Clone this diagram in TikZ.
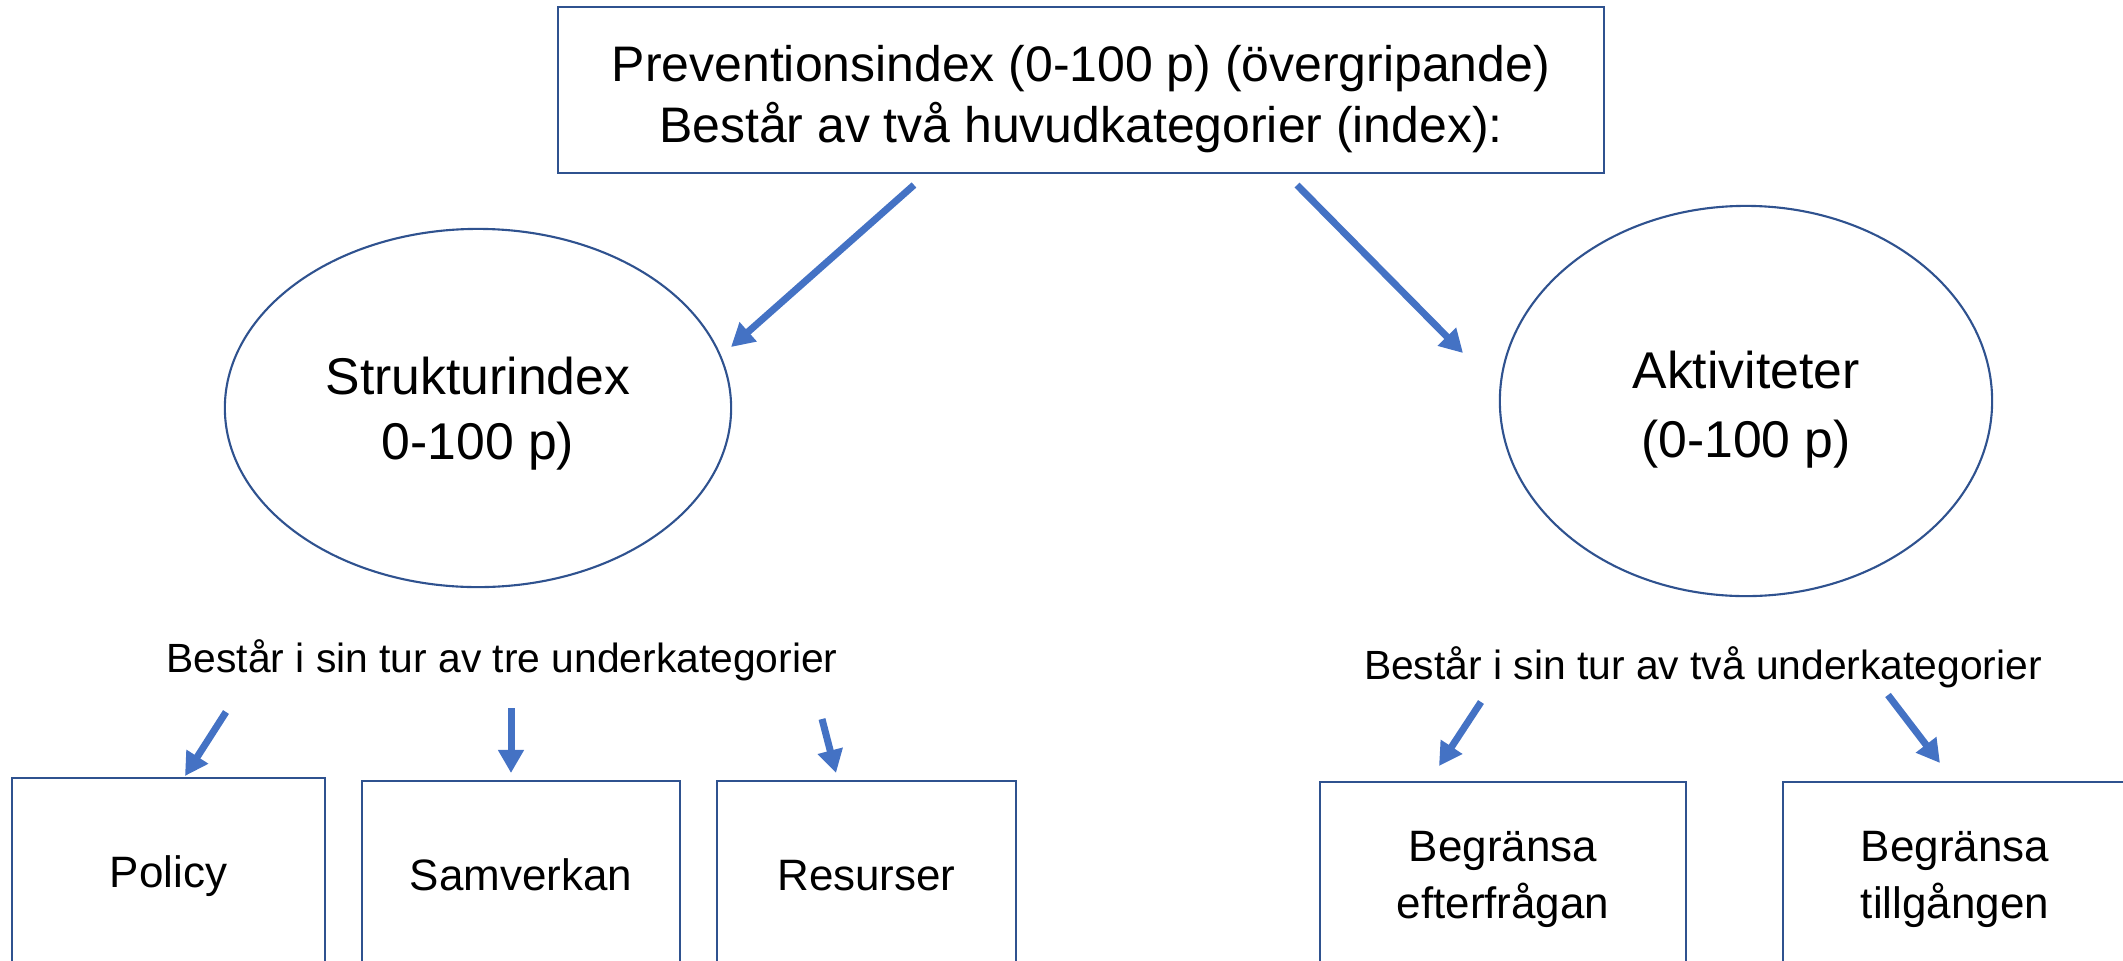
\documentclass[tikz,border=0pt]{standalone}
\usepackage{fontspec}
\setmainfont{Liberation Sans}
\usetikzlibrary{arrows.meta,shapes.geometric}
\definecolor{arrowblue}{HTML}{4472C4}
\definecolor{lineblue}{HTML}{2F528F}
\begin{document}
\begin{tikzpicture}[x=0.01cm,y=-0.01cm,
  box/.style={draw=lineblue, line width=0.6pt, align=center, inner sep=0pt},
  subbox/.style={box, minimum height=1.94cm, text height=0.72em, text depth=0pt},
  oval/.style={ellipse, draw=lineblue, line width=0.6pt, align=center, inner sep=0pt},
  pil/.style={arrowblue, line width=0.07cm, -{Triangle[length=0.23cm,width=0.245cm]}}]
\useasboundingbox (0,0) rectangle (2123,960);
\clip (0,0) rectangle (2123,960);
% top index
\node[box, minimum width=10.46cm, minimum height=1.66cm, font=\fontsize{14.2}{17.4}\selectfont] (index) at (1081,90)
  {\rule{0pt}{0.54cm}Preventionsindex (0-100 p) (övergripande)\\Består av två huvudkategorier (index):};
% the two main categories
\node[oval, minimum width=5.06cm, minimum height=3.58cm, font=\fontsize{14.7}{18.5}\selectfont] (struktur) at (478,408) {\rule{0pt}{0.49cm}Strukturindex\\0-100 p)};
\node[oval, minimum width=4.92cm, minimum height=3.90cm, font=\fontsize{14.7}{19.6}\selectfont] (aktiv) at (1746,401) {\rule{0pt}{0.55cm}Aktiviteter\\(0-100 p)};
\coordinate (A1) at (914,185);
\coordinate (B1) at (731,347);
\draw[pil] (A1) -- (B1);
\coordinate (A2) at (1297,185);
\coordinate (B2) at (1463,353);
\draw[pil] (A2) -- (B2);
% sub categories
\node[font=\fontsize{11.6}{14}\selectfont] (tre) at (502,660) {Består i sin tur av tre underkategorier};
\node[font=\fontsize{11.6}{14}\selectfont] (tva) at (1703,667) {Består i sin tur av två underkategorier};
\node[subbox, minimum width=3.13cm, font=\fontsize{12.5}{16.2}\selectfont] (policy) at (168.5,875) {Policy};
\node[subbox, minimum width=3.18cm, font=\fontsize{12.5}{16.2}\selectfont] (samverkan) at (521,878) {Samverkan};
\node[subbox, minimum width=2.99cm, font=\fontsize{12.5}{16.2}\selectfont] (resurser) at (866.5,878) {Resurser};
\node[box, minimum width=3.66cm, minimum height=1.94cm, font=\fontsize{12.5}{16.2}\selectfont] (efter) at (1503,879) {Begränsa\\efterfrågan};
\node[box, minimum width=3.44cm, minimum height=1.94cm, font=\fontsize{12.5}{16.2}\selectfont] (tillg) at (1955,879) {Begränsa\\tillgången};
\coordinate (a1) at (226,712);
\coordinate (a2) at (185,776);
\draw[pil] (a1) -- (a2);
\coordinate (b1) at (511,708);
\coordinate (b2) at (511,773);
\draw[pil] (b1) -- (b2);
\coordinate (c1) at (822,719);
\coordinate (c2) at (836,773);
\draw[pil] (c1) -- (c2);
\coordinate (d1) at (1481,702);
\coordinate (d2) at (1439,766);
\draw[pil] (d1) -- (d2);
\coordinate (e1) at (1888,695);
\coordinate (e2) at (1940,763);
\draw[pil] (e1) -- (e2);
\end{tikzpicture}
\end{document}
